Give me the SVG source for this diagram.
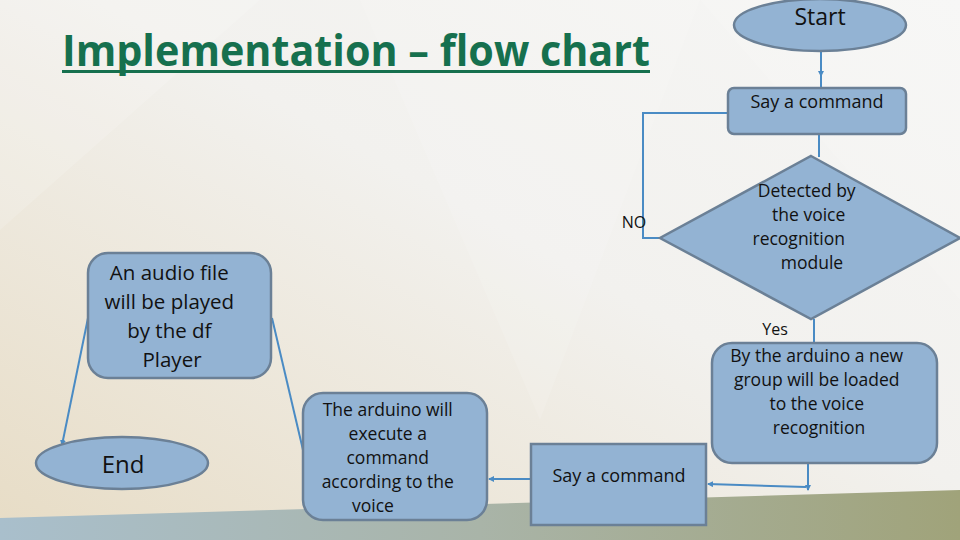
<svg xmlns="http://www.w3.org/2000/svg" width="960" height="540" viewBox="0 0 960 540">
  <defs>
    <linearGradient id="bg" x1="1" y1="0" x2="0" y2="1">
      <stop offset="0" stop-color="#f6f6f5"/>
      <stop offset="0.45" stop-color="#f2f1ee"/>
      <stop offset="1" stop-color="#e7dcc5"/>
    </linearGradient>
    <linearGradient id="band" x1="0" y1="0" x2="1" y2="0">
      <stop offset="0" stop-color="#a9bfcc"/>
      <stop offset="0.5" stop-color="#a9b4a8"/>
      <stop offset="1" stop-color="#a0a37a"/>
    </linearGradient>
    <marker id="arr" markerWidth="6" markerHeight="6" refX="5" refY="3" orient="auto" markerUnits="userSpaceOnUse">
      <path d="M0,0 L6,3 L0,6 z" fill="#4a8bc4"/>
    </marker>
    <style>
      .node { fill: #93b3d3; stroke: #6b8096; stroke-width: 2.5; }
      .conn { fill: none; stroke: #4a8bc4; stroke-width: 2; }
      .t { font-family: "Open Sans", "Liberation Sans", sans-serif; fill: #111; text-anchor: middle; }
      .lbl { font-family: "Open Sans", "Liberation Sans", sans-serif; fill: #111; font-size: 16px; text-anchor: middle; }
    </style>
  </defs>

  <!-- background -->
  <rect x="0" y="0" width="960" height="540" fill="url(#bg)"/>
  <polygon points="0,0 260,0 0,230" fill="#ffffff" opacity="0.15"/>
  <polygon points="360,0 700,0 540,420" fill="#ffffff" opacity="0.12"/>
  <polygon points="700,0 960,0 960,300" fill="#ffffff" opacity="0.1"/>
  <polygon points="0,518 960,490 960,540 0,540" fill="url(#band)"/>

  <!-- title -->
  <g id="title">
    <text x="62" y="66" font-family="'Open Sans', 'Liberation Sans', sans-serif" font-weight="bold" font-size="43" fill="#16704e" textLength="588" lengthAdjust="spacingAndGlyphs">Implementation – flow chart</text>
    <rect x="62" y="70" width="588" height="3" fill="#16704e"/>
  </g>

  <!-- connectors -->
  <g id="connectors">
    <path class="conn" d="M821,52 V76" marker-end="url(#arr)"/>
    <path class="conn" d="M660,238 H643 V113 H821 V76"/>
    <path class="conn" d="M819,134 V157"/>
    <path class="conn" d="M814,319 V343"/>
    <path class="conn" d="M808,463 V490" marker-end="url(#arr)"/>
    <path class="conn" d="M806,487 L708,484" marker-end="url(#arr)"/>
    <path class="conn" d="M530,479 H489" marker-end="url(#arr)"/>
    <path class="conn" d="M303,450 L272,318" stroke-width="1.5"/>
    <path class="conn" d="M88,318 L62,445" stroke-width="1.5" marker-end="url(#arr)"/>
    <text class="lbl" x="634" y="228">NO</text>
    <text class="lbl" x="775" y="335">Yes</text>
  </g>

  <g id="start">
    <ellipse class="node" cx="820" cy="25" rx="86" ry="26"/>
    <text class="t" x="820" y="25" font-size="23">Start</text>
  </g>

  <g id="say1">
    <rect class="node" x="728" y="88" width="178" height="46" rx="6"/>
    <text class="t" x="817" y="108" font-size="18">Say a command</text>
  </g>

  <g id="decision">
    <polygon class="node" points="811,156 960,238 811,319 660,238"/>
    <text class="t" font-size="17.5">
      <tspan x="809" y="197">Detected by</tspan>
      <tspan x="811" y="221">the voice</tspan>
      <tspan x="801" y="245">recognition</tspan>
      <tspan x="812" y="269">module</tspan>
    </text>
  </g>

  <g id="load">
    <rect class="node" x="712" y="343" width="225" height="120" rx="20"/>
    <text class="t" font-size="17.5">
      <tspan x="819" y="362">By the arduino a new</tspan>
      <tspan x="819" y="386">group will be loaded</tspan>
      <tspan x="819" y="410">to the voice</tspan>
      <tspan x="819" y="434">recognition</tspan>
    </text>
  </g>

  <g id="say2">
    <rect class="node" x="531" y="444" width="175" height="81"/>
    <text class="t" x="619" y="482" font-size="18">Say a command</text>
  </g>

  <g id="execute">
    <rect class="node" x="303" y="393" width="184" height="127" rx="20"/>
    <text class="t" font-size="17.5">
      <tspan x="390" y="416">The arduino will</tspan>
      <tspan x="390" y="440">execute a</tspan>
      <tspan x="390" y="464">command</tspan>
      <tspan x="390" y="488">according to the</tspan>
      <tspan x="373" y="512">voice</tspan>
    </text>
  </g>

  <g id="audio">
    <rect class="node" x="88" y="253" width="183" height="125" rx="20"/>
    <text class="t" font-size="20.5">
      <tspan x="172" y="280">An audio file</tspan>
      <tspan x="172" y="309">will be played</tspan>
      <tspan x="172" y="338">by the df</tspan>
      <tspan x="172" y="367">Player</tspan>
    </text>
  </g>

  <g id="end">
    <ellipse class="node" cx="122" cy="463" rx="86" ry="26"/>
    <text class="t" x="123" y="473" font-size="24">End</text>
  </g>
</svg>
